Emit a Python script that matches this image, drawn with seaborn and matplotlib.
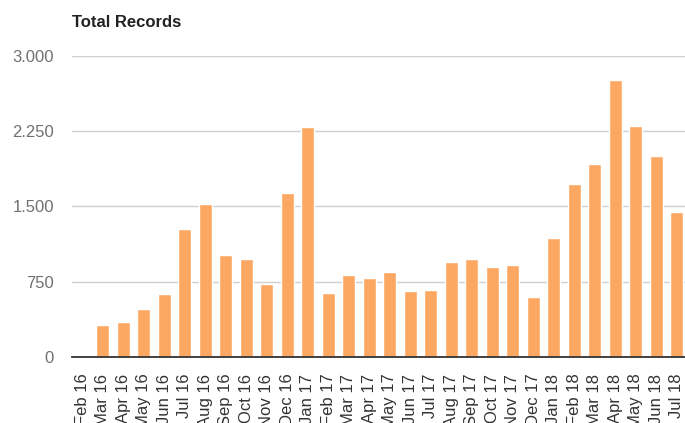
import matplotlib
matplotlib.use("Agg")
import matplotlib.pyplot as plt
import matplotlib.ticker as mticker
import seaborn as sns
import pandas as pd

# monthly totals
months = ["Feb 16", "Mar 16", "Apr 16", "May 16", "Jun 16", "Jul 16", "Aug 16",
          "Sep 16", "Oct 16", "Nov 16", "Dec 16", "Jan 17", "Feb 17", "Mar 17",
          "Apr 17", "May 17", "Jun 17", "Jul 17", "Aug 17", "Sep 17", "Oct 17",
          "Nov 17", "Dec 17", "Jan 18", "Feb 18", "Mar 18", "Apr 18", "May 18",
          "Jun 18", "Jul 18"]
records = [0, 320, 345, 475, 627, 1275, 1521, 1016, 973, 724, 1633, 2294, 640, 814,
           784, 844, 657, 670, 943, 973, 900, 913, 601, 1182, 1720, 1919, 2759, 2304,
           2005, 1447]
yticks = [0, 750, 1500, 2250, 3000]

sns.set_style("white")
plt.rcParams['font.family'] = ['Liberation Sans', 'DejaVu Sans']

df = pd.DataFrame({"Month": months, "Records": records})

fig = plt.figure(figsize=(6.85, 4.23), dpi=100)
ax = fig.add_axes([0.105, 0.156, 0.895, 0.712])

sns.barplot(data=df, x="Month", y="Records", color="#FDA862", saturation=1,
            width=0.63, ax=ax, zorder=3)

ax.set_ylim(0, 3000)
ax.set_xlim(-0.5, 29.4)
ax.set_yticks(yticks)
ax.yaxis.set_major_formatter(mticker.FuncFormatter(lambda v, p: f"{int(v):,}".replace(",", ".")))
ax.grid(axis="y", color="#cfcfcf", linewidth=1, zorder=0)
ax.grid(axis="x", visible=False)
for s in ["top", "right", "left"]:
    ax.spines[s].set_visible(False)
ax.spines["bottom"].set_color("#333333")
ax.spines["bottom"].set_linewidth(1.3)
ax.spines["bottom"].set_zorder(4)

ax.tick_params(axis="y", length=0, pad=13, labelsize=12, labelcolor="#707070")
ax.tick_params(axis="x", length=0, pad=12, labelsize=12, labelcolor="#333333", rotation=90)
ax.set_xlabel("")
ax.set_ylabel("")

fig.text(0.105, 0.935, "Total Records", fontsize=12, fontweight="bold", color="#222222")

fig.savefig("out.png", dpi=100)
